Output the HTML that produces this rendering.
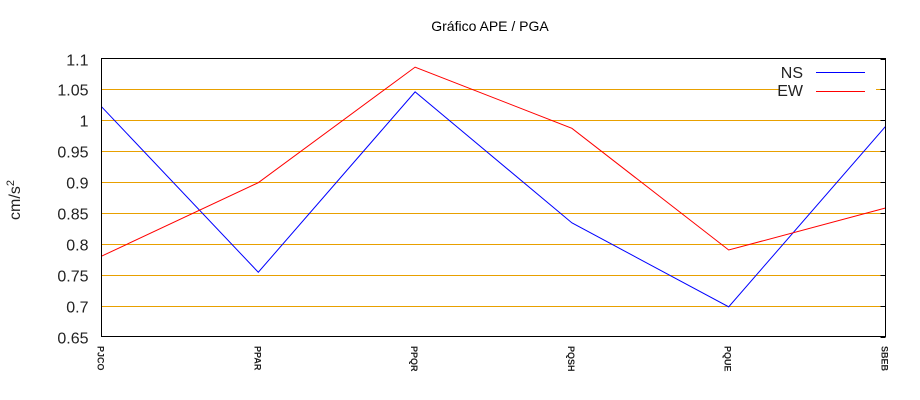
<!DOCTYPE html>
<html><head><meta charset="utf-8"><style>
body{margin:0;background:#fff;}
svg{display:block;font-family:"Liberation Sans",sans-serif;}
</style></head><body>
<svg id="chart" width="920" height="400">
<text x="490" y="31" font-size="14" text-anchor="middle">Gráfico  APE / PGA</text>
<text transform="translate(20,200) rotate(-90)" font-size="16" text-anchor="middle" fill="#222">cm/s<tspan dy="-6" font-size="11">2</tspan></text>
<g id="grid"></g><g id="yt"></g><g id="xt"></g>
<g>
<rect x="779" y="61" width="97" height="37" fill="#fff"/>
<text x="803" y="78" font-size="16" text-anchor="end" fill="#222">NS</text>
<line x1="816" y1="72.5" x2="865" y2="72.5" stroke="#00f"/>
<text x="803" y="96" font-size="16" text-anchor="end" fill="#222">EW</text>
<line x1="816" y1="91.5" x2="865" y2="91.5" stroke="#f00"/>
</g>
<g id="series"></g>
<rect x="101.5" y="58.5" width="784" height="278" fill="none" stroke="#000"/>
</svg>
<script>
const categories=["PJCO","PPAR","PPQR","PQSH","PQUE","SBEB"];
const nsValues=[1.022,0.754,1.046,0.834,0.698,0.99];
const ewValues=[0.78,0.899,1.086,0.987,0.79,0.858];
const yTicks=[0.65,0.7,0.75,0.8,0.85,0.9,0.95,1,1.05,1.1];
const NS="http://www.w3.org/2000/svg";
const L=101.5,R=885.5,T=58.5,B=336.5,yMin=0.65,yMax=1.1;
const xs=i=>L+(R-L)*i/(categories.length-1);
const ys=v=>B-(v-yMin)/(yMax-yMin)*(B-T);
function mk(t,a,p){const e=document.createElementNS(NS,t);for(const k in a)e.setAttribute(k,a[k]);p.appendChild(e);return e;}
const grid=document.getElementById('grid'),yt=document.getElementById('yt'),xt=document.getElementById('xt'),ser=document.getElementById('series');
yTicks.forEach(v=>{const y=Math.round(ys(v))+0.5;
 if(v>yMin&&v<yMax){const g=mk('line',{x1:L,x2:R,y1:y,y2:y,stroke:'#e8a000'},grid);
 
 }
 const t=mk('text',{x:L-13,y:y+6,'font-size':16,'text-anchor':'end',fill:'#222'},yt);t.textContent=String(v);
 
 
 const tk=mk('line',{x1:R-5,x2:R,y1:y,y2:y,stroke:'#000'},yt);
 
 
});
categories.forEach((c,i)=>{const x=xs(i);
 const t=mk('text',{transform:`translate(${x-4},346) rotate(90)`,'font-size':9,'font-weight':'bold',fill:'#222'},xt);t.textContent=c;
 
 
});
[[nsValues,'#00f','series-ns'],[ewValues,'#f00','series-ew']].forEach(([vals,col,name])=>{
 const p=mk('polyline',{points:vals.map((v,i)=>xs(i)+','+ys(v)).join(' '),fill:'none',stroke:col,'stroke-width':1},ser);
 
 
});
</script>
</body></html>
